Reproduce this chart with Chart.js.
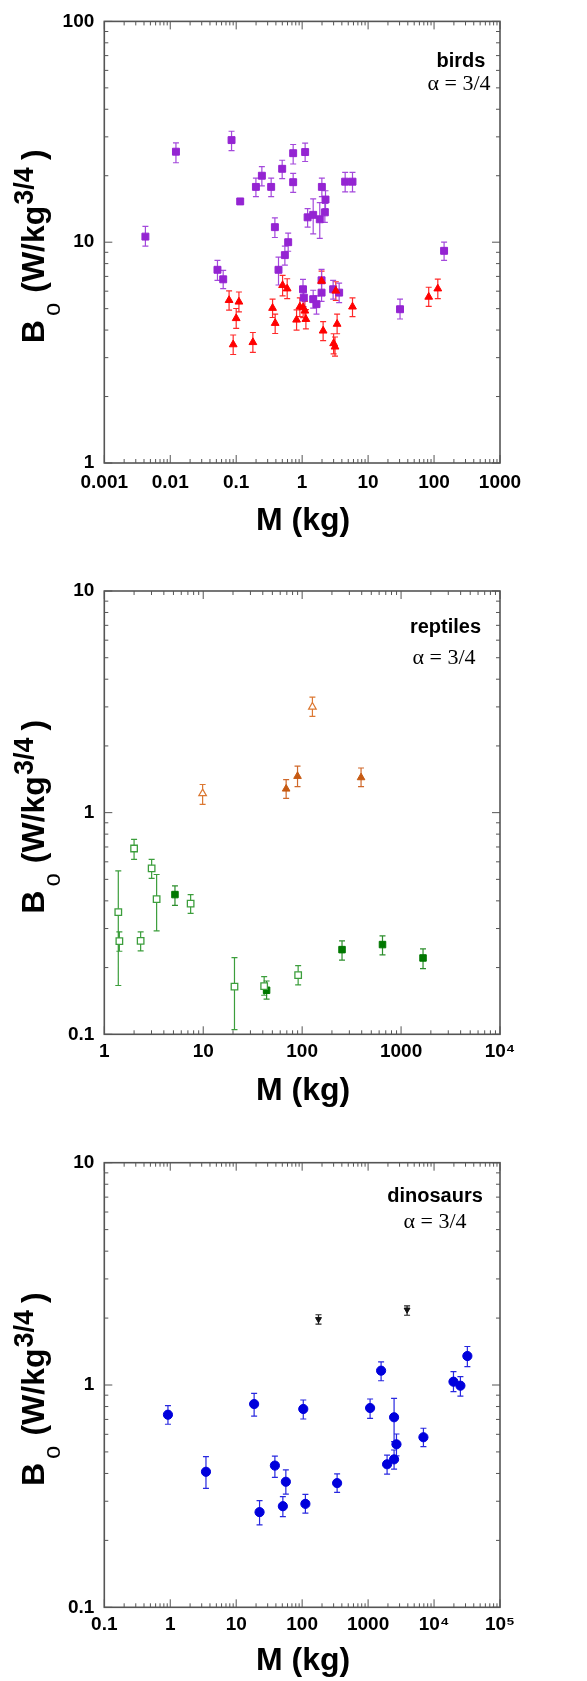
<!DOCTYPE html>
<html>
<head>
<meta charset="utf-8">
<script src="https://cdn.jsdelivr.net/npm/chart.js@4.4.1/dist/chart.umd.min.js"></script>
<style>
  html, body { margin: 0; padding: 0; background: #fff; }
  #wrap { position: relative; width: 587px; height: 1681px; }
  canvas { position: absolute; left: 0; }
</style>
</head>
<body>
<div id="wrap">
  <canvas id="birdChart" width="587" height="560" style="top:0"></canvas>
  <canvas id="reptileChart" width="587" height="560" style="top:560px"></canvas>
  <canvas id="dinoChart" width="587" height="561" style="top:1120px"></canvas>
</div>
<script>
// ---- birds: squares (purple) ----
const birdSqM  = [0.0042, 0.0122, 0.085, 0.115, 0.199, 0.245, 0.339, 0.498, 0.731, 0.731, 1.11, 0.386, 0.614, 0.547, 0.438, 0.052, 0.0635, 1.21, 1.47, 1.85, 2.21, 2.26, 1.99, 4.49, 5.8, 142, 1.03, 1.06, 1.47, 1.65, 1.97, 1.97, 2.95, 3.64, 30.5];
const birdSqB  = [10.6, 25.7, 29.0, 15.3, 17.8, 20.0, 17.8, 21.5, 25.3, 18.7, 25.6, 11.7, 10.0, 8.74, 7.5, 7.5, 6.79, 12.96, 13.3, 12.7, 13.65, 15.6, 17.8, 18.8, 18.8, 9.14, 6.12, 5.61, 5.52, 5.24, 6.72, 5.91, 6.12, 5.91, 4.97];
const birdSqHi = [11.8, 28.2, 31.8, 15.7, 19.5, 22.0, 19.5, 23.5, 27.7, 20.5, 28.1, 12.9, 11.0, 9.6, 8.56, 8.27, 7.46, 14.2, 15.7, 15.1, 15.0, 17.1, 19.5, 20.7, 20.7, 10.0, 6.79, 6.2, 6.06, 5.71, 7.53, 6.5, 6.72, 6.52, 5.52];
const birdSqLo = [9.6, 22.9, 26.0, 14.9, 16.1, 18.0, 16.1, 19.4, 22.6, 16.8, 23.2, 10.5, 9.1, 7.88, 6.4, 6.72, 6.16, 11.7, 10.9, 10.4, 12.3, 14.2, 16.1, 16.9, 16.9, 8.27, 5.5, 5.1, 5.03, 4.72, 6.0, 5.4, 5.52, 5.33, 4.49];

// ---- birds: triangles (red) ----
const birdTriM  = [0.078, 0.11, 0.1, 0.09, 0.179, 0.356, 0.39, 0.505, 0.593, 0.823, 0.923, 1.035, 1.10, 1.14, 1.97, 2.08, 3.0, 3.15, 3.39, 3.24, 5.8, 83, 114];
const birdTriB  = [5.46, 5.37, 4.52, 3.44, 3.52, 5.03, 4.30, 6.38, 6.16, 4.45, 5.10, 5.06, 4.89, 4.48, 6.67, 3.97, 3.48, 3.36, 4.26, 6.02, 5.10, 5.65, 6.16];
const birdTriHi = [6.02, 5.95, 5.01, 3.80, 3.90, 5.52, 4.72, 7.08, 6.83, 4.94, 5.6, 5.55, 5.4, 4.95, 7.4, 4.37, 3.85, 3.72, 4.72, 6.62, 5.6, 6.25, 6.8];
const birdTriLo = [4.92, 4.84, 4.07, 3.10, 3.17, 4.56, 3.86, 5.71, 5.55, 4.0, 4.6, 4.55, 4.4, 4.05, 6.0, 3.58, 3.12, 3.05, 3.85, 5.45, 4.6, 5.12, 5.55];

// ---- reptiles ----
const repOpenSqM  = [1.385, 1.42, 2.0, 2.33, 3.01, 3.38, 7.46, 20.7, 41.3, 91.1];
const repOpenSqB  = [0.356, 0.263, 0.689, 0.264, 0.560, 0.407, 0.389, 0.164, 0.165, 0.185];
const repOpenSqHi = [0.546, 0.29, 0.757, 0.29, 0.616, 0.526, 0.427, 0.222, 0.182, 0.204];
const repOpenSqLo = [0.166, 0.237, 0.616, 0.238, 0.505, 0.293, 0.351, 0.105, 0.150, 0.167];

const repFullSqM  = [5.18, 43.7, 253, 649, 1667];
const repFullSqB  = [0.427, 0.158, 0.241, 0.254, 0.221];
const repFullSqHi = [0.467, 0.174, 0.264, 0.278, 0.243];
const repFullSqLo = [0.382, 0.144, 0.216, 0.228, 0.198];

const repOpenTriM  = [9.86, 127];
const repOpenTriB  = [1.22, 3.0];
const repOpenTriHi = [1.34, 3.32];
const repOpenTriLo = [1.09, 2.72];

const repFullTriM  = [68.9, 89.8, 394];
const repFullTriB  = [1.28, 1.46, 1.44];
const repFullTriHi = [1.41, 1.62, 1.59];
const repFullTriLo = [1.16, 1.31, 1.31];

// ---- dinosaurs ----
const dinoM  = [0.923, 3.48, 18.7, 22.6, 38.6, 51, 56.6, 104, 112, 339, 1072, 1574, 1940, 2477, 2477, 2692, 6900, 19700, 25100, 32000];
const dinoB  = [0.735, 0.407, 0.821, 0.268, 0.434, 0.285, 0.367, 0.780, 0.292, 0.362, 0.788, 1.16, 0.440, 0.716, 0.463, 0.541, 0.582, 1.035, 0.993, 1.35];
const dinoHi = [0.807, 0.476, 0.917, 0.302, 0.479, 0.315, 0.415, 0.856, 0.322, 0.398, 0.865, 1.27, 0.484, 0.871, 0.510, 0.602, 0.639, 1.148, 1.09, 1.49];
const dinoLo = [0.666, 0.343, 0.725, 0.235, 0.384, 0.256, 0.323, 0.703, 0.265, 0.329, 0.708, 1.045, 0.397, 0.556, 0.418, 0.48, 0.528, 0.933, 0.892, 1.21];

const blackM  = [177, 3900];
const blackB  = [1.975, 2.18];
const blackHi = [2.07, 2.27];
const blackLo = [1.88, 2.06];

const SANS = '"Liberation Sans", Arial, sans-serif';
const SERIF = '"Liberation Serif", "Times New Roman", serif';
const SUP = { '0': '⁰', '1': '¹', '2': '²', '3': '³', '4': '⁴', '5': '⁵', '6': '⁶', '7': '⁷', '8': '⁸', '9': '⁹' };

function isDecade(v) {
    const e = Math.log10(v);
    return Math.abs(e - Math.round(e)) < 1e-6;
}

// 1..9 x 10^e for every decade in range
function logTicks(lo, hi) {
    const out = [];
    for (let e = lo; e < hi; e++) {
        for (let m = 1; m <= 9; m++) out.push({ value: Number((m * Math.pow(10, e)).toPrecision(6)) });
    }
    out.push({ value: Math.pow(10, hi) });
    return out;
}

function decadeLabel(v) {
    if (!isDecade(v)) return '';
    const e = Math.round(Math.log10(v));
    if (e >= 4) return '10' + String(e).split('').map(d => SUP[d]).join('');
    return Number(Math.pow(10, e).toPrecision(1)).toString();
}

function series(mass, b, hi, lo, style) {
    return Object.assign({
        data: mass.map((m, i) => ({ x: m, y: b[i] })),
        errHi: hi,
        errLo: lo,
    }, style);
}

// vertical error bars with caps
const errorBars = {
    id: 'errorBars',
    beforeDatasetsDraw(chart) {
        const { ctx, scales: { x, y } } = chart;
        chart.data.datasets.forEach(ds => {
            if (!ds.errHi) return;
            ctx.save();
            ctx.strokeStyle = ds.errColor;
            ctx.lineWidth = 1.2;
            ctx.beginPath();
            ds.data.forEach((p, i) => {
                const px = x.getPixelForValue(p.x);
                const yHi = y.getPixelForValue(ds.errHi[i]);
                const yLo = y.getPixelForValue(ds.errLo[i]);
                ctx.moveTo(px, yHi); ctx.lineTo(px, yLo);
                ctx.moveTo(px - 3, yHi); ctx.lineTo(px + 3, yHi);
                ctx.moveTo(px - 3, yLo); ctx.lineTo(px + 3, yLo);
            });
            ctx.stroke();
            ctx.restore();
        });
    }
};

// text pieces laid end to end: [text, font, baseline shift, gap before]
function drawRun(ctx, parts, x0) {
    let x = x0;
    parts.forEach(([t, font, dy, gap]) => {
        ctx.font = font;
        x += gap;
        ctx.fillText(t, x, dy);
        x += ctx.measureText(t).width;
    });
}

// box with inward ticks on all four sides, titles and the corner note
const frame = {
    id: 'frame',
    afterDraw(chart, args, opts) {
        const { ctx, chartArea: a, scales: { x, y } } = chart;
        ctx.save();
        ctx.strokeStyle = '#555';
        ctx.lineWidth = 1;
        ctx.beginPath();
        x.ticks.forEach(t => {
            const px = x.getPixelForValue(t.value);
            const len = isDecade(t.value) ? 8 : 4;
            ctx.moveTo(px, a.bottom); ctx.lineTo(px, a.bottom - len);
            ctx.moveTo(px, a.top); ctx.lineTo(px, a.top + len);
        });
        y.ticks.forEach(t => {
            const py = y.getPixelForValue(t.value);
            const len = isDecade(t.value) ? 8 : 4;
            ctx.moveTo(a.left, py); ctx.lineTo(a.left + len, py);
            ctx.moveTo(a.right, py); ctx.lineTo(a.right - len, py);
        });
        ctx.stroke();
        ctx.lineWidth = 1.6;
        ctx.strokeRect(a.left, a.top, a.right - a.left, a.bottom - a.top);

        ctx.fillStyle = '#000';
        ctx.textAlign = 'center';
        ctx.textBaseline = 'alphabetic';
        ctx.font = 'bold 20px ' + SANS;
        ctx.fillText(opts.group, opts.groupX, a.top + opts.groupY);
        ctx.font = '22px ' + SERIF;
        ctx.fillText('α = 3/4', opts.alphaX, a.top + opts.alphaY);

        ctx.font = 'bold 32px ' + SANS;
        ctx.fillText('M (kg)', (a.left + a.right) / 2 + 1, a.bottom + opts.xTitleY);

        // y title, rotated: B_o (W/kg^3/4)
        ctx.translate(43.5, (a.top + a.bottom) / 2);
        ctx.rotate(-Math.PI / 2);
        ctx.textAlign = 'left';
        drawRun(ctx, [
            ['B', 'bold 32px ' + SANS, 0, 0],
            ['o', '24px ' + SANS, 16, 4],
            ['(W/kg', 'bold 32px ' + SANS, 0, 10],
            ['3/4', 'bold 27px ' + SANS, -10.5, 1],
            [')', 'bold 32px ' + SANS, 0, 7],
        ], -101);
        ctx.restore();
    }
};

function logAxis(min, max, lo, hi, fit, pad) {
    return {
        type: 'logarithmic',
        min: min,
        max: max,
        afterBuildTicks: s => { s.ticks = logTicks(lo, hi); },
        afterFit: fit,
        grid: { display: false, drawTicks: false },
        border: { display: false },
        ticks: {
            autoSkip: false,
            maxRotation: 0,
            padding: pad,
            color: '#000',
            font: { family: SANS, size: 19, weight: 'bold' },
            callback: v => decadeLabel(v),
        },
    };
}

function makePanel(id, datasets, xr, yr, padding, xPad, text) {
    new Chart(document.getElementById(id), {
        type: 'scatter',
        data: { datasets: datasets },
        options: {
            responsive: false,
            animation: false,
            layout: { padding: padding },
            scales: {
                x: logAxis(xr[0], xr[1], xr[2], xr[3], s => { s.height = 40; }, xPad),
                y: logAxis(yr[0], yr[1], yr[2], yr[3], s => { s.width = 60; }, 10),
            },
            plugins: {
                legend: { display: false },
                tooltip: { enabled: false },
                frame: text,
            },
        },
        plugins: [errorBars, frame],
    });
}

makePanel('birdChart', [
    series(birdTriM, birdTriB, birdTriHi, birdTriLo, {
        pointStyle: 'triangle', pointRadius: 4.5, pointBackgroundColor: '#ff0000',
        pointBorderColor: '#ff0000', pointBorderWidth: 1, errColor: '#ff2a2a',
    }),
    series(birdSqM, birdSqB, birdSqHi, birdSqLo, {
        pointStyle: 'rect', pointRadius: 4.9, pointBackgroundColor: '#9424d2',
        pointBorderColor: '#9424d2', pointBorderWidth: 1, errColor: '#a449dc',
    }),
], [0.001, 1000, -3, 3], [1, 100, 0, 2],
   { top: 19, right: 87, bottom: 57, left: 44.3 }, 8,
   { group: 'birds', groupX: 461, groupY: 46, alphaX: 459, alphaY: 69, xTitleY: 67 });

makePanel('reptileChart', [
    series(repOpenSqM, repOpenSqB, repOpenSqHi, repOpenSqLo, {
        pointStyle: 'rect', pointRadius: 4.6, pointBackgroundColor: '#ffffff',
        pointBorderColor: '#3c9e3c', pointBorderWidth: 1.3, errColor: '#3c9e3c',
    }),
    series(repFullSqM, repFullSqB, repFullSqHi, repFullSqLo, {
        pointStyle: 'rect', pointRadius: 4.6, pointBackgroundColor: '#007800',
        pointBorderColor: '#007800', pointBorderWidth: 1, errColor: '#2c8e2c',
    }),
    series(repOpenTriM, repOpenTriB, repOpenTriHi, repOpenTriLo, {
        pointStyle: 'triangle', pointRadius: 4.4, pointBackgroundColor: '#ffffff',
        pointBorderColor: '#dc7832', pointBorderWidth: 1.2, errColor: '#dc7832',
    }),
    series(repFullTriM, repFullTriB, repFullTriHi, repFullTriLo, {
        pointStyle: 'triangle', pointRadius: 4.4, pointBackgroundColor: '#c65a12',
        pointBorderColor: '#c65a12', pointBorderWidth: 1, errColor: '#d0682a',
    }),
], [1, 10000, 0, 4], [0.1, 10, -1, 1],
   { top: 31, right: 87, bottom: 45.7, left: 44.3 }, 6,
   { group: 'reptiles', groupX: 445.5, groupY: 41.7, alphaX: 444, alphaY: 73, xTitleY: 65.7 });

makePanel('dinoChart', [
    series(dinoM, dinoB, dinoHi, dinoLo, {
        pointStyle: 'circle', pointRadius: 4.6, pointBackgroundColor: '#0000dc',
        pointBorderColor: '#0000dc', pointBorderWidth: 1, errColor: '#2828e0',
    }),
    series(blackM, blackB, blackHi, blackLo, {
        pointStyle: 'triangle', pointRotation: 180, pointRadius: 3.4, pointBackgroundColor: '#111111',
        pointBorderColor: '#111111', pointBorderWidth: 1, errColor: '#222222',
    }),
], [0.1, 100000, -1, 5], [0.1, 10, -1, 1],
   { top: 42.7, right: 87, bottom: 33.7, left: 44.3 }, 6,
   { group: 'dinosaurs', groupX: 435, groupY: 39, alphaX: 435, alphaY: 65.3, xTitleY: 62.7 });
</script>
</body>
</html>
